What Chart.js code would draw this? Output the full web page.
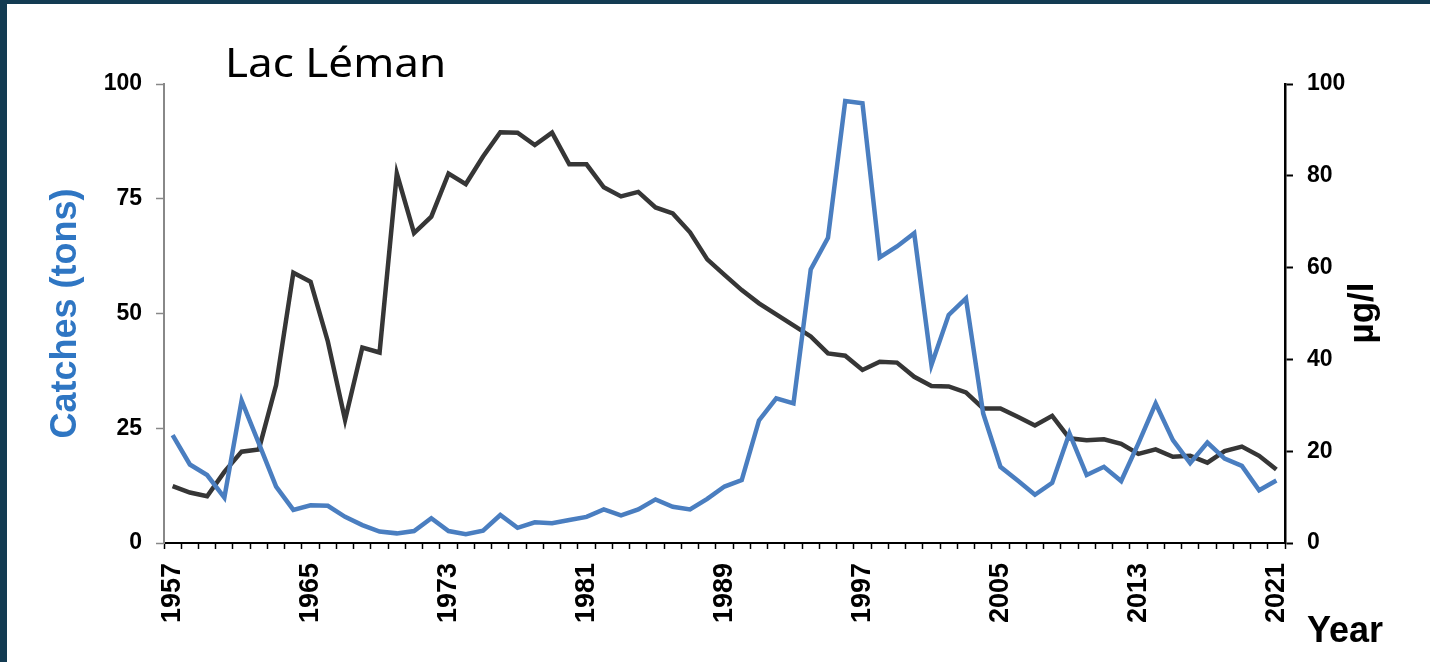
<!DOCTYPE html>
<html>
<head>
<meta charset="utf-8">
<script src="https://cdn.jsdelivr.net/npm/chart.js@4"></script>
<style>
  html, body { margin: 0; padding: 0; background: #133b52; width: 1430px; height: 662px; overflow: hidden; }
  #wrap { position: absolute; left: 7px; top: 4px; width: 1423px; height: 658px; background: #fff; }
</style>
</head>
<body>
<div id="wrap"><canvas id="lemanChart" width="1423" height="658"></canvas></div>
<script>
const years = [];
for (let y = 1957; y <= 2021; y++) years.push(String(y));

// catches (tons), left axis
const catches = [
  23.5, 17.1, 14.8, 9.9, 31.0, 21.7, 12.3, 7.2, 8.2, 8.1,
  5.7, 3.9, 2.5, 2.1, 2.6, 5.4, 2.6, 1.9, 2.7, 6.1,
  3.3, 4.5, 4.3, 5.0, 5.7, 7.3, 6.0, 7.3, 9.5, 7.9,
  7.3, 9.6, 12.3, 13.7, 26.7, 31.5, 30.4, 59.6, 66.5, 96.3,
  95.8, 62.2, 64.6, 67.5, 38.8, 49.7, 53.3, 28.2, 16.6, 13.6,
  10.5, 13.1, 23.9, 14.8, 16.6, 13.5, 21.7, 30.4, 22.4, 17.4,
  21.9, 18.4, 16.8, 11.5, 13.6
];

// phosphorus (µg/l), right axis
const phosphorus = [
  12.4, 11.0, 10.2, 15.5, 19.9, 20.4, 34.4, 58.9, 56.9, 43.9,
  26.8, 42.6, 41.5, 80.5, 67.5, 71.1, 80.5, 78.2, 84.2, 89.5,
  89.4, 86.7, 89.4, 82.5, 82.5, 77.5, 75.5, 76.5, 73.1, 71.8,
  67.7, 61.8, 58.4, 55.1, 52.2, 49.8, 47.4, 45.0, 41.3, 40.8,
  37.7, 39.5, 39.3, 36.2, 34.2, 34.1, 32.8, 29.3, 29.3, 27.5,
  25.6, 27.7, 22.8, 22.4, 22.6, 21.6, 19.4, 20.4, 18.8, 19.0,
  17.5, 20.0, 21.0, 19.0, 16.0
];

const shownYears = ["1957", "1965", "1973", "1981", "1989", "1997", "2005", "2013", "2021"];

const boldTick = { family: "'Liberation Sans', Arial, sans-serif", weight: "bold", size: 23 };

// free text: chart title, right axis title, "Year"
const extraText = {
  id: "extraText",
  afterDraw(chart) {
    const ctx = chart.ctx;
    ctx.save();
    ctx.fillStyle = "#000";
    ctx.textBaseline = "alphabetic";
    ctx.textAlign = "left";
    ctx.save();
    ctx.translate(218, 73);
    ctx.scale(1.1, 1);
    ctx.font = "40px 'Noto Sans', sans-serif";
    ctx.fillText("Lac Léman", 0, 0);
    ctx.restore();

    ctx.font = "bold 36px 'Liberation Sans', Arial, sans-serif";
    ctx.fillText("Year", 1300, 638);

    ctx.translate(1356, 309);
    ctx.rotate(-Math.PI / 2);
    ctx.textAlign = "center";
    ctx.textBaseline = "middle";
    ctx.font = "bold 35px 'Liberation Sans', Arial, sans-serif";
    ctx.fillText("µg/l", 0, 0);
    ctx.restore();
  }
};

new Chart(document.getElementById("lemanChart"), {
  type: "line",
  data: {
    labels: years,
    datasets: [
      {
        label: "Catches (tons)",
        data: catches,
        yAxisID: "y",
        borderColor: "#4a7ec0",
        borderWidth: 4.5,
        pointRadius: 0,
        tension: 0,
        order: 0
      },
      {
        label: "µg/l",
        data: phosphorus,
        yAxisID: "y1",
        borderColor: "#363636",
        borderWidth: 4.5,
        pointRadius: 0,
        tension: 0,
        order: 1
      }
    ]
  },
  options: {
    responsive: false,
    animation: false,
    layout: { padding: { top: 80, left: 0, right: 0, bottom: 0 } },
    plugins: {
      legend: { display: false },
      tooltip: { enabled: false }
    },
    scales: {
      x: {
        type: "category",
        offset: true,
        grid: {
          offset: true,
          drawOnChartArea: false,
          drawTicks: true,
          tickLength: 6,
          tickWidth: 1.5,
          tickColor: "#000"
        },
        border: { color: "#000", width: 2 },
        ticks: {
          autoSkip: false,
          minRotation: 90,
          maxRotation: 90,
          padding: 14,
          color: "#000",
          font: { family: "'Liberation Sans', Arial, sans-serif", weight: "bold", size: 27 },
          callback: function (value) {
            const lab = this.getLabelForValue(value);
            return shownYears.includes(lab) ? lab : "";
          }
        },
        afterFit: (scale) => { scale.height = 119; }
      },
      y: {
        position: "left",
        min: 0,
        max: 100,
        grid: { drawOnChartArea: false, tickLength: 8, tickColor: "#888", tickWidth: 1.5 },
        border: { color: "#888", width: 2 },
        ticks: { stepSize: 25, padding: 14, color: "#000", font: boldTick },
        title: {
          display: true,
          text: "Catches (tons)",
          color: "#2f76c3",
          font: { family: "'Liberation Sans', Arial, sans-serif", weight: "bold", size: 36 },
          padding: { top: 37, bottom: 0 }
        },
        afterFit: (scale) => { scale.width = 157; }
      },
      y1: {
        position: "right",
        min: 0,
        max: 100,
        grid: { drawOnChartArea: false, tickLength: 8, tickColor: "#000", tickWidth: 2 },
        border: { color: "#000", width: 2.5 },
        ticks: { stepSize: 20, padding: 14, color: "#000", font: boldTick },
        afterFit: (scale) => { scale.width = 145; }
      }
    }
  },
  plugins: [extraText]
});
</script>
</body>
</html>
